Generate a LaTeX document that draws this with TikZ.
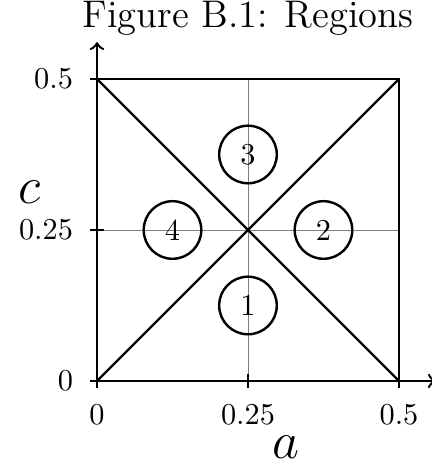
\documentclass[tikz,border=0pt]{standalone}
\usetikzlibrary{calc}

\begin{document}
\begin{tikzpicture}[x=7cm, y=7cm]
    % Define axis scale
    \def\axisLimit{0.5}
    \def\tickLen{0.012}

    \definecolor{borderColour}{HTML}{000000}
    \definecolor{gridColour}{HTML}{808080}

    \tikzset{
        region/.style={circle, draw=borderColour, thick, minimum size=19pt, inner sep=0pt},
        edge/.style={draw=borderColour, thick}
    }

    % Fix the margins
    \useasboundingbox (-0.1606,-0.1507) rectangle (0.5546,0.6308);

    % Title
    \node[font=\fontsize{12.7pt}{15pt}\selectfont] (title) at (0.25,0.601) {Figure B.1: Regions};

    % Draw grid
    \draw[gridColour, very thin] (0.25,0) -- (0.25,\axisLimit);
    \draw[gridColour, very thin] (0,0.25) -- (\axisLimit,0.25);

    % Draw axes
    \draw[thick,->] (0,0) -- (0.561,0);
    \draw[thick,->] (0,0) -- (0,0.561);

    % Label x-axis and y-axis
    \foreach \x in {0,0.25,0.5}
        \draw (\x,\tickLen) -- (\x,-\tickLen) node[anchor=north, yshift=-2pt] {$\x$};
    \foreach \y in {0,0.25,0.5}
        \draw (\tickLen,\y) -- (-\tickLen,\y) node[anchor=east, xshift=-2pt] {$\y$};
    \node[font=\LARGE] (alabel) at (0.313,-0.109) {$a$};
    \node[font=\LARGE] (clabel) at (-0.111,0.313) {$c$};

    % Define the vertices of the square
    \coordinate (A) at (0,0);
    \coordinate (B) at (\axisLimit,0);
    \coordinate (C) at (\axisLimit,\axisLimit);
    \coordinate (D) at (0,\axisLimit);

    % Draw the square and its diagonals
    \draw[edge] (A) -- (B) -- (C) -- (D) -- cycle;
    \draw[edge] (A) -- (C);
    \draw[edge] (B) -- (D);

    % Label the regions
    \node[region] (r1) at (0.25,0.125) {1};
    \node[region] (r2) at (0.375,0.25) {2};
    \node[region] (r3) at (0.25,0.375) {3};
    \node[region] (r4) at (0.125,0.25) {4};

\end{tikzpicture}
\end{document}
